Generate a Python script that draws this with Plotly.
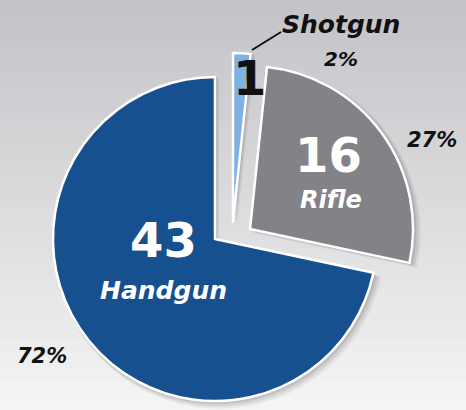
import plotly.graph_objects as go

# ---- data ----
categories = ["Shotgun", "Rifle", "Handgun"]
counts = [1, 16, 43]
percents = [2, 27, 72]

# ---- style ----
W, H = 466, 410
colors = ["#7fb1e3", "#838387", "#17508f"]
num_colors = ["#111111", "#ffffff", "#ffffff"]
# centre (px from top-left) and radius of each slice's pie
centres = [(233, 222), (250, 229), (215, 239)]
radii = [169, 163, 162]

TRANSP = "rgba(0,0,0,0)"


def domain_for(cx, cy, r):
    return dict(
        x=[(cx - r) / W, (cx + r) / W],
        y=[(H - (cy + r)) / H, (H - (cy - r)) / H],
    )


fig = go.Figure()

# soft drop shadows
for i in range(len(categories)):
    cx, cy = centres[i]
    for off, alpha in [(7, 0.05), (5, 0.07), (3, 0.09)]:
        cols = [TRANSP] * len(categories)
        cols[i] = f"rgba(0,0,0,{alpha})"
        fig.add_trace(go.Pie(
            labels=categories, values=counts, sort=False, direction="clockwise",
            rotation=0, textinfo="none", hoverinfo="skip", showlegend=False,
            marker=dict(colors=cols, line=dict(width=0)),
            domain=domain_for(cx + off * 0.6, cy + off * 0.6, radii[i] + off * 0.5),
        ))

# slices
for i in range(len(categories)):
    cx, cy = centres[i]
    cols = [TRANSP] * len(categories)
    cols[i] = colors[i]
    lcols = [TRANSP] * len(categories)
    lcols[i] = "#ffffff"
    fig.add_trace(go.Pie(
        labels=categories, values=counts, sort=False, direction="clockwise",
        rotation=0, textinfo="none", showlegend=False,
        marker=dict(colors=cols, line=dict(color=lcols, width=2.5)),
        domain=domain_for(cx, cy, radii[i]),
    ))

# background gradient
shapes = []
n = 41
top = (195, 195, 200)
bot = (244, 244, 244)
for k in range(n):
    t = k / (n - 1)
    c = tuple(int(round(top[j] + (bot[j] - top[j]) * t)) for j in range(3))
    shapes.append(dict(
        type="rect", xref="paper", yref="paper", layer="below",
        x0=0, x1=1, y0=1 - (k + 1) / n, y1=1 - k / n + 0.002,
        fillcolor=f"rgb{c}", line=dict(width=0),
    ))
# shotgun leader line
shapes.append(dict(type="line", xref="paper", yref="paper",
                   x0=252 / W, y0=1 - 50 / H, x1=281 / W, y1=1 - 32 / H,
                   line=dict(color="#111111", width=2)))

FONT = "DejaVu Sans"


def ann(x, y, text, size, color, xanchor="center"):
    return dict(x=x / W, y=1 - y / H, xref="paper", yref="paper", text=text,
                showarrow=False, xanchor=xanchor, yanchor="middle",
                font=dict(family=FONT, size=size, color=color))


annotations = [
    # handgun
    ann(163, 240, f"<b>{counts[2]}</b>", 48, num_colors[2]),
    ann(163, 290, f"<b><i>{categories[2]}</i></b>", 25, "#ffffff"),
    ann(42, 356, f"<b><i>{percents[2]}%</i></b>", 21, "#111111"),
    # rifle
    ann(328, 155, f"<b>{counts[1]}</b>", 48, num_colors[1]),
    ann(331, 200, f"<b><i>{categories[1]}</i></b>", 24, "#ffffff"),
    ann(432, 140, f"<b><i>{percents[1]}%</i></b>", 21, "#111111"),
    # shotgun
    ann(249, 78, f"<b>{counts[0]}</b>", 48, num_colors[0]),
    ann(341, 24, f"<b><i>{categories[0]}</i></b>", 25, "#111111"),
    ann(341, 59, f"<b><i>{percents[0]}%</i></b>", 20, "#111111"),
]

fig.update_layout(
    width=W, height=H, margin=dict(l=0, r=0, t=0, b=0),
    paper_bgcolor="#e6e6e8", plot_bgcolor="#e6e6e8",
    shapes=shapes, annotations=annotations, showlegend=False,
)

fig.write_html(
    "out.html",
    config={"displayModeBar": False},
    post_script="document.body.style.margin='0';document.body.style.overflow='hidden';",
)
